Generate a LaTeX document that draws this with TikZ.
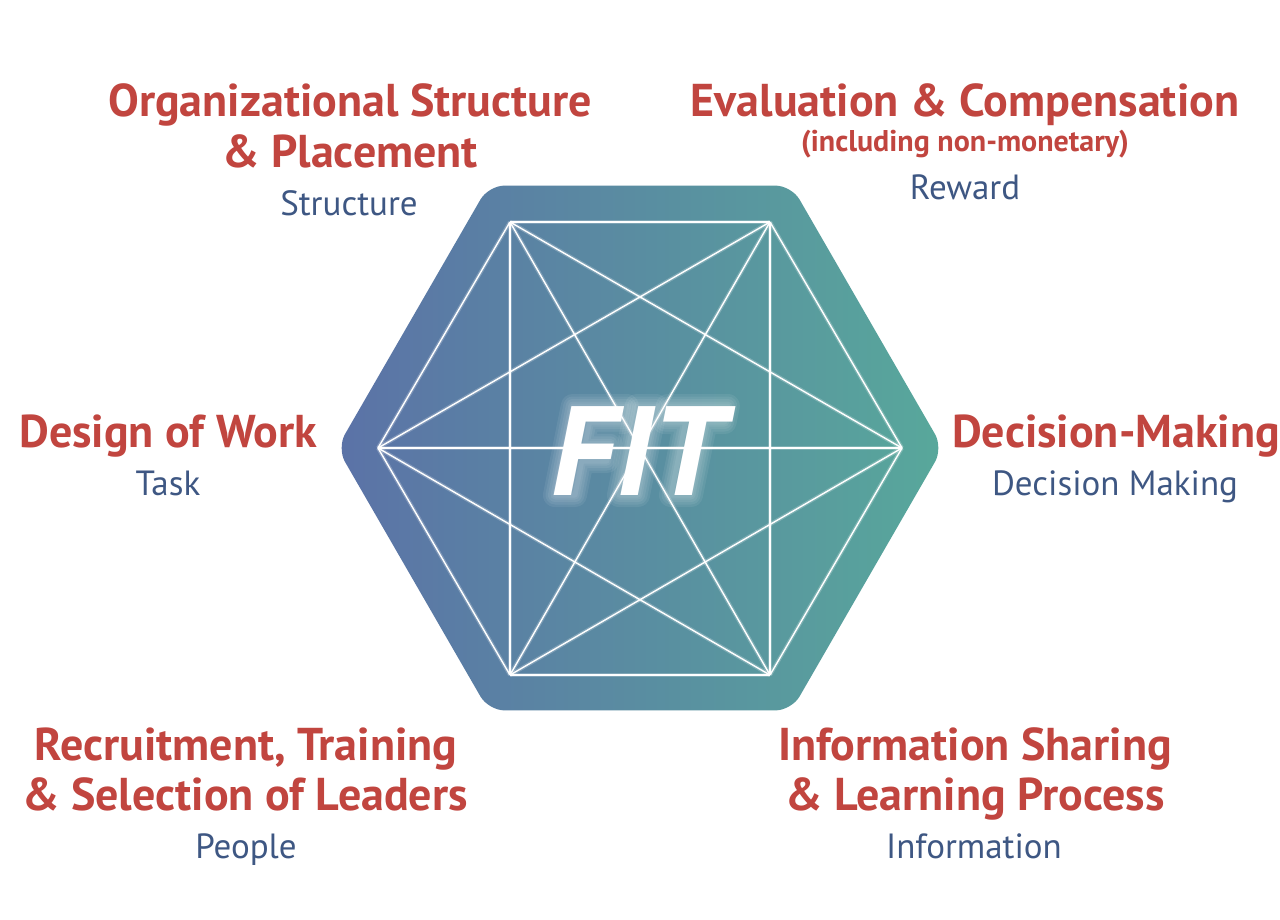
\documentclass[tikz,border=0pt]{standalone}
\usepackage{fontspec}
\usetikzlibrary{calc}
\setmainfont{PT Sans}
\newfontfamily\fitfont[FakeSlant=0.2]{PT Sans}
\definecolor{tred}{HTML}{C1453F}
\definecolor{tblue}{HTML}{3E5783}
\definecolor{hexL}{HTML}{5B72A7}
\definecolor{hexR}{HTML}{58A89B}
\begin{document}
\begin{tikzpicture}[x=1pt,y=-1pt,
  title/.style={text=tred, font=\fontsize{46}{52}\selectfont\bfseries, anchor=base, inner sep=0pt},
  note/.style={text=tred, font=\fontsize{30}{34}\selectfont\bfseries, anchor=base, inner sep=0pt},
  sub/.style={text=tblue, font=\fontsize{35}{40}\selectfont, anchor=base, inner sep=0pt},
  glowline/.style={white, opacity=0.22, line width=4pt},
  gridline/.style={white, line width=1.4pt},
  letterglow/.style={white, opacity=0.07, line join=round},
  fittext/.style={text=white, font=\fitfont\fontsize{127}{140}\selectfont\bfseries, anchor=base, inner sep=0pt}]
\useasboundingbox (0,0) rectangle (1280,920);
\fill[white] (0,0) rectangle (1280,920);
% outer hexagon
\shade[left color=hexL, right color=hexR, rounded corners=16pt]
  (337,448) -- (488.5,185.6) -- (791.5,185.6) -- (943,448) -- (791.5,710.4) -- (488.5,710.4) -- cycle;
% inner vertices
\coordinate (v1) at (378,448);
\coordinate (v2) at (510,222);
\coordinate (v3) at (770,222);
\coordinate (v4) at (902,448);
\coordinate (v5) at (770,675);
\coordinate (v6) at (510,675);
\foreach \a/\b in {v1/v2,v1/v3,v1/v4,v1/v5,v1/v6,v2/v3,v2/v4,v2/v5,v2/v6,v3/v4,v3/v5,v3/v6,v4/v5,v4/v6,v5/v6}{
  \draw[glowline] (\a) -- (\b);
}
\foreach \a/\b in {v1/v2,v1/v3,v1/v4,v1/v5,v1/v6,v2/v3,v2/v4,v2/v5,v2/v6,v3/v4,v3/v5,v3/v6,v4/v5,v4/v6,v5/v6}{
  \draw[gridline] (\a) -- (\b);
}
% glow around the letters of FIT
\foreach \w in {24,19,14,9,5}{
  \draw[letterglow, line width=\w pt]
    (555,495) -- (575,495) -- (581.8,461) -- (606.8,461) -- (610.3,443.3) -- (585.3,443.3)
    -- (589.6,422) -- (623.6,422) -- (626.8,406) -- (572.8,406) -- cycle;
  \draw[letterglow, line width=\w pt]
    (619,495) -- (638,495) -- (655.8,406) -- (636.8,406) -- cycle;
  \draw[letterglow, line width=\w pt]
    (671,495) -- (691,495) -- (705.6,422) -- (724.6,422) -- (727.8,406) -- (667.8,406)
    -- (664.6,422) -- (685.6,422) -- cycle;
}
\node[fittext] (fit) at (633,495) {FIT};
% labels
\node[title] (t1a) at (350,117) {Organizational Structure};
\node[title] (t1b) at (350,168) {\& Placement};
\node[sub] (s1) at (349,216) {Structure};
\node[title] (t2a) at (965,117) {Evaluation \& Compensation};
\node[note] (t2b) at (965,152) {(including non-monetary)};
\node[sub] (s2) at (965,200) {Reward};
\node[title] (t3a) at (168,447) {Design of Work};
\node[sub] (s3) at (168,495) {Task};
\node[title, anchor=base west] (t4a) at (952,447) {Decision-Making};
\node[sub] (s4) at (1115,495) {Decision Making};
\node[title] (t5a) at (246,760) {Recruitment, Training};
\node[title] (t5b) at (245,810) {\& Selection of Leaders};
\node[sub] (s5) at (246,858) {People};
\node[title] (t6a) at (975,760) {Information Sharing};
\node[title] (t6b) at (975,810) {\& Learning Process};
\node[sub] (s6) at (974,858) {Information};
\end{tikzpicture}
\end{document}
